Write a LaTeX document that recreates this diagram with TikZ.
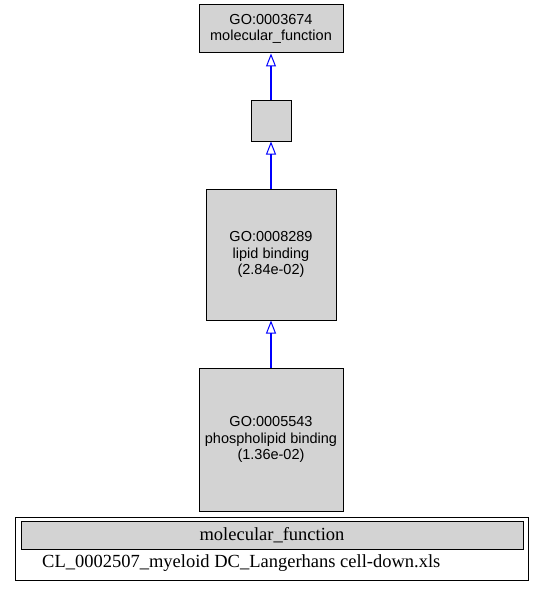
\documentclass[tikz,border=0pt]{standalone}
\usepackage{fontspec}
\setmainfont{Liberation Serif}
\newfontfamily\nodefont{Liberation Sans}
\usetikzlibrary{arrows.meta}
\definecolor{nodegray}{RGB}{211,211,211}
\definecolor{edgeblue}{RGB}{0,0,255}
\begin{document}
\begin{tikzpicture}[x=1pt,y=-1pt,
  gonode/.style={draw=black,fill=nodegray,line width=1pt,inner sep=0pt,align=center,font=\nodefont\fontsize{14.5}{16.7}\selectfont},
  isa/.style={draw=edgeblue,line width=1.3pt,-{Triangle[open,length=13pt,width=10pt,line width=1pt]}}]
\useasboundingbox (0,0) rectangle (543,591);
\node[gonode,minimum width=144pt,minimum height=48pt] (n1) at (271,29) {GO:0003674\\molecular\_function};
\node[gonode,minimum width=40pt,minimum height=40pt] (n2) at (271,121) {};
\node[gonode,minimum width=130pt,minimum height=131pt] (n3) at (271,254.5) {GO:0008289\\lipid binding\\(2.84e-02)};
\node[gonode,minimum width=144pt,minimum height=143pt] (n4) at (271,439.5) {GO:0005543\\phospholipid binding\\(1.36e-02)};
\draw[isa] (n2.north) -- (n1.south);
\draw[isa] (n3.north) -- (n2.south);
\draw[isa] (n4.north) -- (n3.south);
\node[draw=black,line width=1pt,minimum width=513pt,minimum height=63pt,inner sep=0pt] (legend) at (271.5,548.5) {};
\node[draw=black,fill=nodegray,line width=1pt,minimum width=502pt,minimum height=28pt,inner sep=0pt,font=\fontsize{18.5}{21}\selectfont] (lhead) at (272,535) {molecular\_function};
\node[anchor=west,inner sep=0pt,font=\fontsize{18.5}{21}\selectfont] (lrow) at (42,563) {CL\_0002507\_myeloid DC\_Langerhans cell-down.xls};
\end{tikzpicture}
\end{document}
